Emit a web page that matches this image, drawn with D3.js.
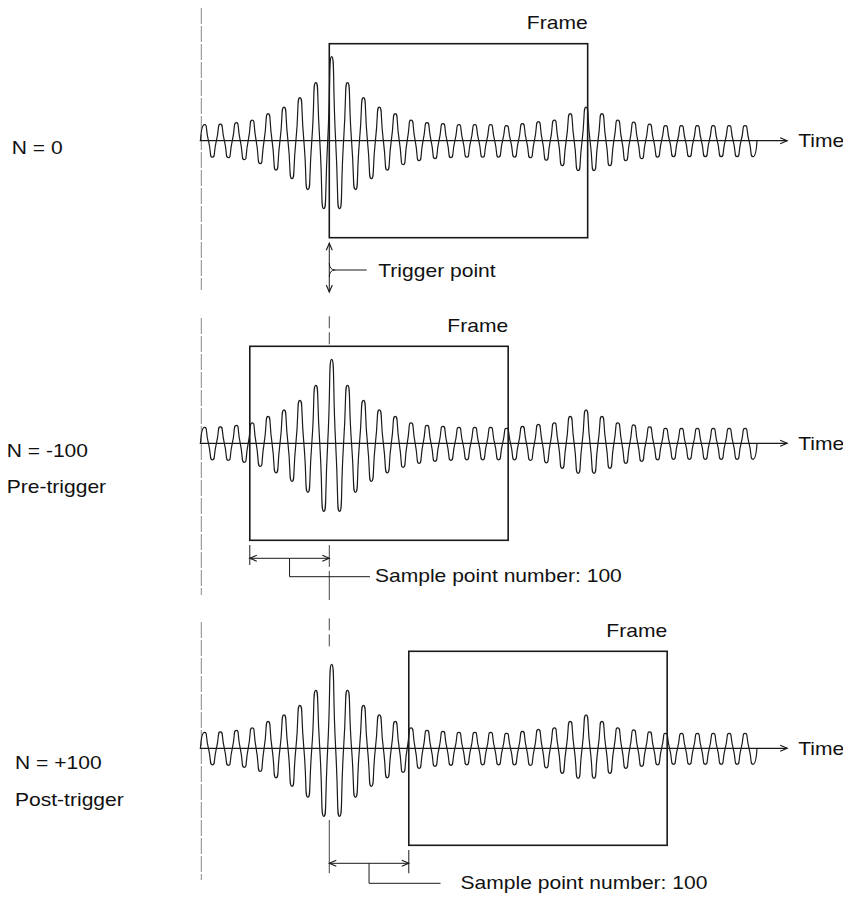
<!DOCTYPE html>
<html><head><meta charset="utf-8">
<script src="https://cdn.jsdelivr.net/npm/d3@7"></script>
<style>body{margin:0;background:#fff}svg{display:block}</style>
</head><body><svg id="c" width="843" height="898"></svg>
<script>
// ---- data ----
// amplitude of each positive half-cycle (peak) and the following negative half-cycle (trough)
const peakAmp = [16,16.5,18,20.5,27,33.5,43,58,84,58,43,33.5,27,20.5,18,17,16,16,16,15,17,19,20.5,27,33.5,27,20.5,18.5,16.5,15,15,15,15,15,15];
const troughAmp = [16.5,17,19,23,29.5,38,49,68,68,49,38,29.5,24,20,18,17,16.5,16.5,16.5,16.5,17,19.5,25,30,30,25,20,18,16.5,16,16,16,16,16,16];
const waveStart = -162;        // sample index where the trace begins (trigger = 0)
const samplesPerCycle = 20;
const frameLength = 325;       // samples in one frame
const frameOffsets = [0, -100, 100];   // N
const nLabels = ["N = 0", "N = -100", "N = +100"];
const modeLabels = ["", "Pre-trigger", "Post-trigger"];
const frameLabel = "Frame";
const timeLabel = "Time";
const triggerLabel = "Trigger point";
const sampleLabel = "Sample point number: 100";

// ---- layout ----
const svg = d3.select("#c");
const x = d3.scaleLinear().domain([-162, 538]).range([200.5, 757]);
const axisYs = [140.7, 443.3, 748.3];
const FONT = "'Liberation Sans', Arial, Helvetica, sans-serif";
const SX = 1.17;
const ink = "#1a1a1a";

function label(g, txt, px, py, anchor) {
  g.append("text")
    .attr("transform", `translate(${px},${py}) scale(${SX},1)`)
    .attr("text-anchor", anchor || "start")
    .attr("font-family", FONT).attr("font-size", 18).attr("fill", "#111")
    .text(txt);
}
function arrowHead(g, tx, ty, dir) {
  const L = 7, w = 3;
  let p;
  if (dir === 'r') p = `M${tx-L},${ty-w}L${tx},${ty}L${tx-L},${ty+w}`;
  if (dir === 'l') p = `M${tx+L},${ty-w}L${tx},${ty}L${tx+L},${ty+w}`;
  if (dir === 'u') p = `M${tx-w},${ty+L}L${tx},${ty}L${tx+w},${ty+L}`;
  if (dir === 'd') p = `M${tx-w},${ty-L}L${tx},${ty}L${tx+w},${ty-L}`;
  g.append("path").attr("d", p).attr("fill", "none").attr("stroke", ink).attr("stroke-width", 1.1);
}

const pts = [];
peakAmp.forEach((a, i) => {
  const s0 = waveStart + i * samplesPerCycle;
  pts.push([s0, 0], [s0 + samplesPerCycle / 4, a], [s0 + samplesPerCycle / 2, 0], [s0 + 3 * samplesPerCycle / 4, -troughAmp[i]]);
});
pts.push([waveStart + peakAmp.length * samplesPerCycle, 0]);

const panelTop = [132.7, 125.3, 126.3];
const panelBot = [-149.3, -151.7, -131.7];

axisYs.forEach((ay, k) => {
  const y = d3.scaleLinear().domain([-100, 100]).range([ay + 100, ay - 100]);
  const g = svg.append("g");
  const N = frameOffsets[k];

  g.append("line").attr("x1", x(-161)).attr("x2", x(-161))
    .attr("y1", y(panelTop[k])).attr("y2", y(panelBot[k]))
    .attr("stroke", "#888").attr("stroke-width", 1).attr("stroke-dasharray", "16,2");

  g.append("line").attr("x1", x(-163)).attr("x2", x(576)).attr("y1", y(0)).attr("y2", y(0))
    .attr("stroke", ink).attr("stroke-width", 1.2);
  arrowHead(g, x(576), y(0), 'r');
  label(g, timeLabel, x(576) + 11, y(0) + 6.6);

  g.append("path").datum(pts)
    .attr("d", d3.line().x(d => x(d[0])).y(d => y(d[1])).curve(d3.curveCardinal.tension(-1.3)))
    .attr("fill", "none").attr("stroke", ink).attr("stroke-width", 1.2);

  g.append("rect").attr("x", x(N)).attr("y", y(97)).attr("width", x(N + frameLength) - x(N))
    .attr("height", y(-97) - y(97)).attr("fill", "none").attr("stroke", ink).attr("stroke-width", 1.6);
  label(g, frameLabel, x(N + frameLength), y(97) - 14.5, "end");

  const lx = [11.7, 6.7, 15][k];
  const ly = [13.3, 13.4, 21][k];
  label(g, nLabels[k], lx, y(0) + ly);
  if (modeLabels[k]) label(g, modeLabels[k], lx, y(0) + ly + 36.5);

  const dash = "12,4";
  if (k === 0) {
    const tx = x(0);
    g.append("line").attr("x1", tx).attr("x2", tx).attr("y1", y(-102.5)).attr("y2", y(-151.3))
      .attr("stroke", ink).attr("stroke-width", 1);
    arrowHead(g, tx, y(-102.5), 'u');
    arrowHead(g, tx, y(-151.3), 'd');
    const by = y(-129.3);
    g.append("path").attr("d", `M${tx},${by-7}Q${tx},${by} ${tx+6},${by}Q${tx},${by} ${tx},${by+7}M${tx+6},${by}L${tx+37.4},${by}`)
      .attr("fill", "none").attr("stroke", ink).attr("stroke-width", 1);
    label(g, triggerLabel, tx + 49, by + 6.7);
  } else {
    const tx = x(0);
    const fx = x(N);
    const aY = y(-115);
    if (k === 1) {
      g.append("line").attr("x1", tx).attr("x2", tx).attr("y1", y(127)).attr("y2", y(97))
        .attr("stroke", "#444").attr("stroke-width", 1).attr("stroke-dasharray", dash);
      g.append("line").attr("x1", tx).attr("x2", tx).attr("y1", y(-101.7)).attr("y2", y(-156.7))
        .attr("stroke", "#444").attr("stroke-width", 1).attr("stroke-dasharray", "22,4,30");
      g.append("line").attr("x1", fx).attr("x2", fx).attr("y1", y(-101.7)).attr("y2", y(-121.7))
        .attr("stroke", ink).attr("stroke-width", 1);
    } else {
      g.append("line").attr("x1", tx).attr("x2", tx).attr("y1", y(130)).attr("y2", y(100))
        .attr("stroke", "#444").attr("stroke-width", 1).attr("stroke-dasharray", dash);
      g.append("line").attr("x1", tx).attr("x2", tx).attr("y1", y(-71.7)).attr("y2", y(-125))
        .attr("stroke", "#444").attr("stroke-width", 1);
      g.append("line").attr("x1", fx).attr("x2", fx).attr("y1", y(-101.7)).attr("y2", y(-125))
        .attr("stroke", ink).attr("stroke-width", 1);
    }
    const a0 = Math.min(tx, fx), a1 = Math.max(tx, fx);
    g.append("line").attr("x1", a0).attr("x2", a1).attr("y1", aY).attr("y2", aY)
      .attr("stroke", ink).attr("stroke-width", 1);
    arrowHead(g, a0, aY, 'l');
    arrowHead(g, a1, aY, 'r');
    const mx = (a0 + a1) / 2;
    const cy = k === 1 ? y(-133.4) : y(-135);
    const ex = k === 1 ? mx + 80.4 : mx + 71.5;
    g.append("path").attr("d", `M${mx},${aY}L${mx},${cy}L${ex},${cy}`)
      .attr("fill", "none").attr("stroke", ink).attr("stroke-width", 1);
    label(g, sampleLabel, k === 1 ? ex + 5 : ex + 20, cy + 5.5);
  }
});
</script></body></html>
